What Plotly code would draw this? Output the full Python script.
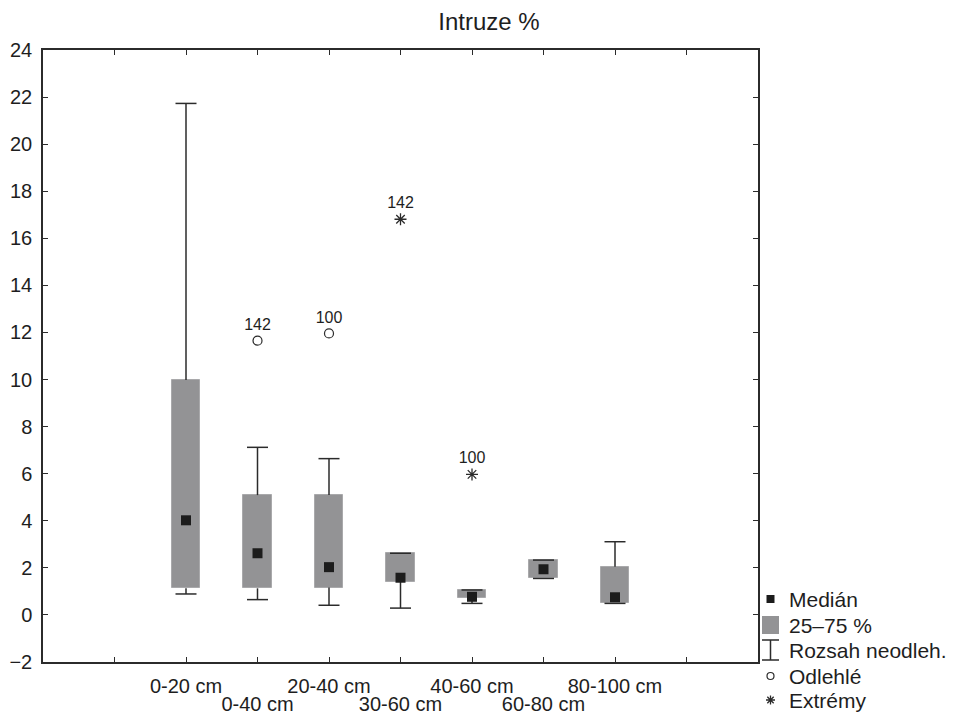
import plotly.graph_objects as go

# ---- data ----
categories = ['0-20 cm', '0-40 cm', '20-40 cm', '30-60 cm', '40-60 cm', '60-80 cm', '80-100 cm']
medians = [4.02, 2.62, 2.03, 1.58, 0.77, 1.94, 0.75]
q1 = [1.13, 1.13, 1.16, 1.41, 0.70, 1.55, 0.49]
q3 = [9.98, 5.09, 5.09, 2.62, 1.06, 2.33, 2.05]
whisker_lo = [0.89, 0.65, 0.41, 0.29, 0.49, 1.55, 0.49]
whisker_hi = [21.73, 7.12, 6.64, 2.62, 1.06, 2.33, 3.11]

outlier_cats = ['0-40 cm', '20-40 cm']
outlier_vals = [11.65, 11.96]
outlier_ids = ['142', '100']

extreme_cats = ['30-60 cm', '40-60 cm']
extreme_vals = [16.81, 5.97]
extreme_ids = ['142', '100']

y_ticks = list(range(-2, 25, 2))
legend_labels = ['Medián', '25–75 %', 'Rozsah neodleh.', 'Odlehlé', 'Extrémy']

# ---- styling ----
FONT = 'Liberation Sans, Arial, sans-serif'
TXT = '#1e1e1e'
BOX = '#939395'
DARK = '#1c1c1c'
LINE = '#2b2b2b'

pos = list(range(1, len(categories) + 1))
pos_of = {c: p for c, p in zip(categories, pos)}

# whisker segments
wx, wy = [], []
for p, a, b, lo, hi in zip(pos, q1, q3, whisker_lo, whisker_hi):
    wx += [p, p, None, p, p, None]
    wy += [b, hi, None, a, lo, None]

fig = go.Figure()

fig.add_trace(go.Scatter(x=wx, y=wy, mode='lines', line=dict(color=LINE, width=1.5),
                         hoverinfo='skip', showlegend=False))
fig.add_trace(go.Bar(x=pos, base=q1, y=[b - a for a, b in zip(q1, q3)], width=0.4,
                     marker=dict(color=BOX, line=dict(color='#a9a9ab', width=1)),
                     showlegend=False))
fig.add_trace(go.Scatter(x=pos + pos, y=whisker_hi + whisker_lo, mode='markers',
                         marker=dict(symbol='line-ew-open', size=15, color=LINE,
                                     line=dict(color=LINE, width=1.5)),
                         showlegend=False))
fig.add_trace(go.Scatter(x=pos, y=medians, mode='markers',
                         marker=dict(symbol='square', size=10, color=DARK),
                         showlegend=False))
fig.add_trace(go.Scatter(x=[pos_of[c] for c in outlier_cats], y=outlier_vals,
                         mode='markers+text', text=outlier_ids, textposition='top center',
                         textfont=dict(size=16, color=TXT, family=FONT),
                         marker=dict(symbol='circle-open', size=9, color=LINE,
                                     line=dict(color=LINE, width=1.2)),
                         showlegend=False))
fig.add_trace(go.Scatter(x=[pos_of[c] for c in extreme_cats], y=extreme_vals,
                         mode='markers+text', text=extreme_ids, textposition='top center',
                         textfont=dict(size=16, color=TXT, family=FONT),
                         marker=dict(symbol='asterisk-open', size=10, color=LINE,
                                     line=dict(color=LINE, width=1.3)),
                         showlegend=False))
# invisible companion trace so the second (label-only) x axis is drawn
fig.add_trace(go.Scatter(x=pos, y=medians, xaxis='x2', mode='markers',
                         marker=dict(opacity=0), hoverinfo='skip', showlegend=False))

# tick labels: alternate rows (upper row on x, lower row on x2)
tickvals = list(range(0, len(categories) + 2))
upper_vals = [p for i, p in enumerate(pos) if i % 2 == 0]
upper_text = [c for i, c in enumerate(categories) if i % 2 == 0]
lower_vals = [p for i, p in enumerate(pos) if i % 2 == 1]
lower_text = [c for i, c in enumerate(categories) if i % 2 == 1]
ticktext = [upper_text[upper_vals.index(v)] if v in upper_vals else '' for v in tickvals]

# The page body adds an 8px offset, so the figure is 8px smaller and margins shifted.
W, H = 952, 708
xr = [0 - 1, len(categories) + 2]
fig.update_layout(
    width=W, height=H,
    margin=dict(l=35, r=202, t=42, b=54),
    paper_bgcolor='white', plot_bgcolor='white',
    font=dict(family=FONT, size=20, color=TXT),
    title=dict(text='Intruze %', x=481 / W, xanchor='center', xref='container',
               y=1 - 14 / H, yanchor='middle', yref='container',
               font=dict(size=24, color=TXT, family=FONT)),
    showlegend=False,
    bargap=0,
    xaxis2=dict(overlaying='x', side='bottom', anchor='y', range=xr,
                tickvals=lower_vals, ticktext=lower_text, tickangle=0,
                automargin=False, ticklabelstandoff=28, ticks='', showline=False,
                showgrid=False, zeroline=False, tickfont=dict(size=20, color=TXT)),
)
fig.update_layout(xaxis=dict(range=xr, tickvals=tickvals, ticktext=ticktext,
                 tickangle=0, automargin=False, ticklabelstandoff=5,
                 ticks='inside', ticklen=5, tickwidth=1.3, tickcolor=LINE,
                 showline=True, linecolor=LINE, linewidth=1.5, mirror='ticks',
                 showgrid=False, zeroline=False, tickfont=dict(size=20, color=TXT)))
fig.update_yaxes(range=[-2, 24], tickvals=y_ticks, automargin=False,
                 ticks='inside', ticklen=5, tickwidth=1.3, tickcolor=LINE,
                 showline=True, linecolor=LINE, linewidth=1.5, mirror='ticks',
                 showgrid=False, zeroline=False, tickfont=dict(size=20, color=TXT),
                 ticklabelstandoff=5)

# ---- manual legend (pixel offsets from the lower-right plot corner) ----
row_y = [63, 37, 12, -14, -38]   # px above the plot bottom edge
for lab, yy in zip(legend_labels, row_y):
    fig.add_annotation(x=1, y=0, xref='paper', yref='paper', xanchor='left', yanchor='middle',
                       xshift=29, yshift=yy, text=lab, showarrow=False,
                       font=dict(size=21, color=TXT, family=FONT))

def pshape(**kw):
    base = dict(xref='paper', yref='paper', xsizemode='pixel', ysizemode='pixel',
                xanchor=1, yanchor=0)
    base.update(kw)
    fig.add_shape(**base)

cx = 12.5
pshape(type='rect', x0=cx - 4, x1=cx + 4, y0=row_y[0] - 4, y1=row_y[0] + 4,
       fillcolor=DARK, line=dict(width=0))
pshape(type='rect', x0=cx - 8.5, x1=cx + 8.5, y0=row_y[1] - 9, y1=row_y[1] + 9,
       fillcolor=BOX, line=dict(width=0))
yt, yb = row_y[2] + 10, row_y[2] - 10
pshape(type='path', path=f'M{cx-8.5},{yt} H{cx+8.5} M{cx},{yt} V{yb} M{cx-8.5},{yb} H{cx+8.5}',
       line=dict(color=LINE, width=1.5))
pshape(type='circle', x0=cx - 3.5, x1=cx + 3.5, y0=row_y[3] - 3.5, y1=row_y[3] + 3.5,
       line=dict(color=LINE, width=1.2))
r = 4.5
d = r * 0.707
ay = row_y[4]
pshape(type='path',
       path=(f'M{cx},{ay-r} V{ay+r} M{cx-r},{ay} H{cx+r} '
             f'M{cx-d},{ay-d} L{cx+d},{ay+d} M{cx-d},{ay+d} L{cx+d},{ay-d}'),
       line=dict(color=LINE, width=1.3))

fig.write_html('out.html')
